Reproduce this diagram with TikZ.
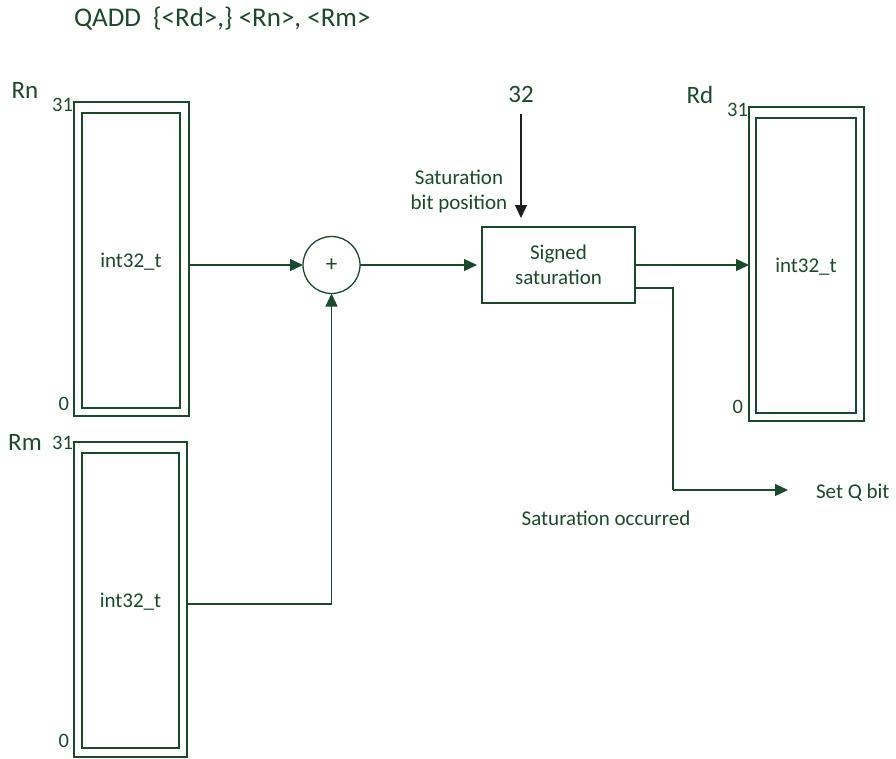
\documentclass[tikz,border=0pt]{standalone}
\usepackage{fontspec}
\setmainfont{Carlito}
\usetikzlibrary{arrows.meta}
\definecolor{dg}{RGB}{26,74,44}
\definecolor{dk}{RGB}{30,30,30}
\begin{document}
\begin{tikzpicture}[x=1pt,y=-1pt,
  every node/.style={text=dg, inner sep=0pt, outer sep=0pt},
  line/.style={draw=dg, line width=1.3pt},
  arr/.style={line, -{Triangle[length=13pt,width=12pt]}},
  txt/.style={font=\fontsize{21}{25}\selectfont},
  big/.style={font=\fontsize{25}{30}\selectfont},
  small/.style={font=\fontsize{20.5}{24}\selectfont, anchor=base east},
  regbox/.style={draw=dg, line width=1.3pt, minimum width=#1},
  inbox/.style={draw=dg, line width=1.3pt, text depth=0pt, font=\fontsize{21}{25}\selectfont},
]
\useasboundingbox (0,0) rectangle (896,758);

% title
\node[font=\fontsize{27}{32}\selectfont, anchor=base west] (title) at (74,26) {QADD\ \ \{<Rd>,\} <Rn>, <Rm>};

% Rn register
\node[regbox=115pt, minimum height=314pt] (rnout) at (131.5,259) {};
\node[inbox, minimum width=98pt, minimum height=295pt] (rnin) at (131,260.5) {int32\_t};
\node[big, anchor=base] (rnlab) at (25,98) {Rn};
\node[small] (rn31) at (73,111) {31};
\node[small] (rn0) at (69,410) {0};

% Rm register
\node[regbox=113pt, minimum height=315pt] (rmout) at (130.5,599.5) {};
\node[inbox, minimum width=97pt, minimum height=295pt] (rmin) at (130.5,600.5) {int32\_t};
\node[big, anchor=base] (rmlab) at (25,450) {Rm};
\node[small] (rm31) at (73,449.5) {31};
\node[small] (rm0) at (69,747.5) {0};

% Rd register
\node[regbox=115pt, minimum height=314pt] (rdout) at (806.5,264) {};
\node[inbox, minimum width=100pt, minimum height=295pt] (rdin) at (806,265.5) {int32\_t};
\node[big, anchor=base] (rdlab) at (700,103) {Rd};
\node[small] (rd31) at (748,116.7) {31};
\node[small] (rd0) at (743,413.3) {0};

% adder
\node[draw=dg, line width=1.3pt, circle, minimum size=57pt, font=\fontsize{23}{27}\selectfont] (add) at (331.5,265) {+};

% saturation
\node[draw=dg, line width=1.3pt, minimum width=153pt, minimum height=76pt, align=center, txt] (sat) at (558.5,265) {Signed\\saturation};
\node[big, anchor=base] (n32) at (521,102.7) {32};
\node[txt, align=center] (satpos) at (459,191) {Saturation\\bit position};

% Q bit
\node[txt, anchor=base west] (setq) at (816,498.3) {Set Q bit};
\node[txt, anchor=base] (satocc) at (606,525) {Saturation occurred};
\coordinate (qc) at (673,490);

% connectors
\draw[arr] (rnout.east |- add.west) -- (add.west);
\draw[arr] ([yshift=-4.5pt]rmout.east) -| (add.south);
\draw[arr, shorten >=5pt] (add.east) -- (sat.west);
\draw[arr] (sat.east) -- (rdout.west |- sat.east);
\draw[draw=dk, line width=1.3pt, -{Triangle[length=13pt,width=12pt]}, shorten <=11pt, shorten >=9pt] (n32.base) -- (n32.base |- sat.north);
\draw[line] ([yshift=-23pt]sat.east) -| (qc);
\draw[arr, shorten >=28pt] (qc) -- (qc -| setq.west);
\end{tikzpicture}
\end{document}
